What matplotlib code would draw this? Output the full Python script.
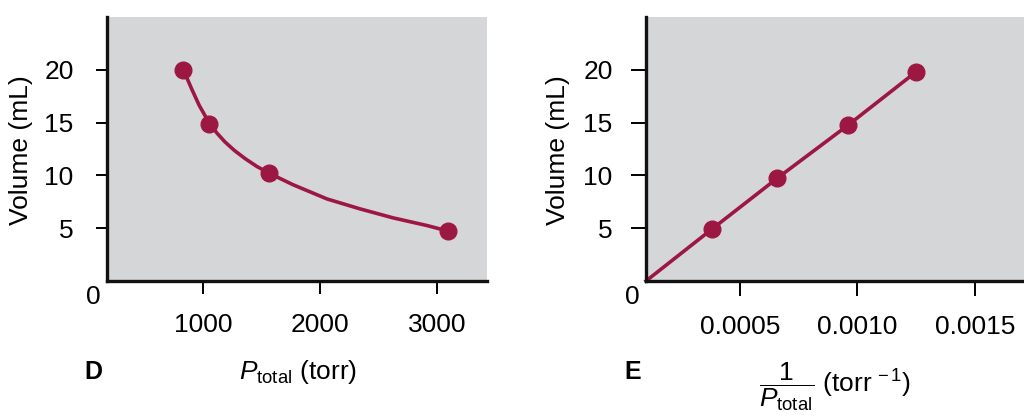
import numpy as np
import matplotlib
matplotlib.use("Agg")
import matplotlib.pyplot as plt

plt.rcParams['font.family'] = ['Liberation Sans', 'DejaVu Sans']
plt.rcParams['mathtext.fontset'] = 'custom'
plt.rcParams['mathtext.rm'] = 'Liberation Sans'
plt.rcParams['mathtext.it'] = 'Liberation Sans:italic'
plt.rcParams['mathtext.bf'] = 'Liberation Sans:bold'

# panel D: volume vs pressure (measured points)
p_total = [832, 1054, 1567, 3097]
vol_d = [20, 14.9, 10.2, 4.72]
# curve
curve_p = [832, 870, 903, 968, 1054, 1120, 1188, 1270, 1359, 1460, 1567, 1769, 2060, 2342,
           2624, 2915, 3097]
curve_v = [20, 19.05, 18.2, 16.63, 14.95, 14.0, 13.17, 12.35, 11.6, 10.85, 10.2, 9.12, 7.77,
           6.83, 5.98, 5.25, 4.72]

# panel E: volume vs 1/P
inv_p = [0.00038, 0.00066, 0.00096, 0.00125]
vol_e = [4.9, 9.75, 14.75, 19.8]
line_x = [0.0001, 0.00038, 0.00066, 0.00096, 0.00125]
line_y = [0, 4.9, 9.75, 14.75, 19.8]

ticks_d = [1000, 2000, 3000]
ticks_e = [0.0005, 0.0010, 0.0015]
tick_labels_e = ["0.0005", "0.0010", "0.0015"]
yticks = [5, 10, 15, 20]

red = "#9c1741"
gray = "#d5d6d8"
fs = 19

fig = plt.figure(figsize=(10.24, 4.16), dpi=100)
ax1 = fig.add_axes([107/1024, 1 - 281/416, 380/1024, 264/416])
ax2 = fig.add_axes([646/1024, 1 - 281/416, 1 - 646/1024, 264/416])


def style(ax, ylen, ypad, xlen):
    ax.set_facecolor(gray)
    for s in ["top", "right"]:
        ax.spines[s].set_visible(False)
    for s in ["left", "bottom"]:
        ax.spines[s].set_linewidth(2.4)
        ax.spines[s].set_color("#111111")
    ax.set_ylim(0, 25)
    ax.set_yticks(yticks)
    ax.tick_params(axis="y", length=ylen, width=1.4, labelsize=fs, pad=ypad)
    ax.tick_params(axis="x", length=xlen, width=1.4, labelsize=fs, pad=14)
    ax.set_ylabel("Volume (mL)", fontsize=fs)


style(ax1, 8, 16, 9)
ax1.plot(curve_p, curve_v, color=red, lw=2.6, solid_capstyle="round", solid_joinstyle="round")
ax1.plot(p_total, vol_d, "o", color=red, ms=12)
ax1.set_xlim(180, 3427)
ax1.set_xticks(ticks_d)
ax1.yaxis.set_label_coords(-0.195, 0.496)
ax1.text(-0.037, -0.06, "0", transform=ax1.transAxes, fontsize=fs, ha="center", va="center")
ax1.text(-0.037, -0.345, "D", transform=ax1.transAxes, fontsize=18, fontweight="bold",
         ha="center", va="center")
ax1.text(0.503, -0.345, r"$P_{\mathrm{total}}$ (torr)", transform=ax1.transAxes, fontsize=fs,
         ha="center", va="center")

style(ax2, 11, 13, 10.5)
ax2.plot(line_x, line_y, color=red, lw=2.6, clip_on=False)
ax2.plot(inv_p, vol_e, "o", color=red, ms=12)
ax2.set_xlim(0.0001, 0.00171)
ax2.set_xticks(ticks_e)
ax2.set_xticklabels(tick_labels_e)
ax2.yaxis.set_label_coords(-0.201, 0.496)
ax2.text(-0.037, -0.06, "0", transform=ax2.transAxes, fontsize=fs, ha="center", va="center")
ax2.text(-0.034, -0.345, "E", transform=ax2.transAxes, fontsize=18, fontweight="bold",
         ha="center", va="center")
ax2.text(0.50, -0.40, r"$\dfrac{1}{P_{\mathrm{total}}}$ (torr$^{\,-1}$)", transform=ax2.transAxes,
         fontsize=fs, ha="center", va="center")

fig.savefig("out.png", dpi=100)
